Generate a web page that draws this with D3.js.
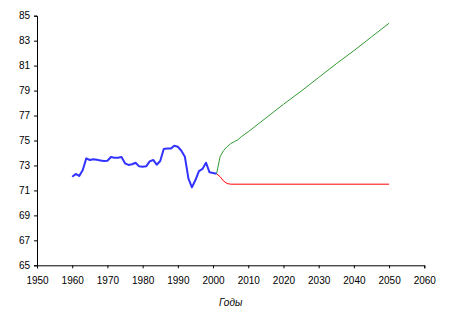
<!DOCTYPE html>
<html>
<head>
<meta charset="utf-8">
<script src="https://cdn.jsdelivr.net/npm/d3@7"></script>
<style>
  body { margin: 0; background: #fff; }
  text { font-family: "Liberation Sans", Arial, sans-serif; }
</style>
</head>
<body>
<div id="grafico"></div>
<script>
// факт
const years = [1960,1961,1962,1963,1964,1965,1966,1967,1968,1969,1970,1971,1972,1973,1974,1975,1976,1977,1978,1979,
  1980,1981,1982,1983,1984,1985,1986,1987,1988,1989,1990,1991,1992,1993,1994,1995,1996,1997,1998,1999,2000,2001];
const fact = [72.1,72.32,72.16,72.64,73.57,73.44,73.5,73.45,73.4,73.35,73.38,73.68,73.62,73.62,73.68,73.17,73.04,73.1,73.22,72.93,
  72.9,72.93,73.33,73.44,73.06,73.36,74.32,74.35,74.35,74.58,74.5,74.18,73.7,71.97,71.25,71.83,72.55,72.72,73.22,72.45,72.4,72.34];

// прогноз: рост
const yearsUp = [2001,2002,2003,2004,2005,2006,2007,2008,2010,2015,2020,2025,2030,2035,2040,2045,2050];
const valuesUp = [72.34,73.7,74.2,74.5,74.75,74.9,75.05,75.3,75.7,76.8,77.9,78.95,80.05,81.15,82.2,83.3,84.4];

// прогноз: стагнация
const yearsFlat = [2001,2002,2003,2004,2005,2050];
const valuesFlat = [72.34,72.1,71.75,71.55,71.5,71.5];

const xTicks = [1950,1960,1970,1980,1990,2000,2010,2020,2030,2040,2050,2060];
const yTicks = [65,67,69,71,73,75,77,79,81,83,85];

const width = 453;
const height = 329;
const margin = { top: 15.7, right: 28.7, bottom: 63.7, left: 37 };

const svg = d3.select("#grafico").append("svg")
  .attr("width", width)
  .attr("height", height);

const x = d3.scaleLinear().domain([1950, 2060]).range([margin.left, width - margin.right]);
const y = d3.scaleLinear().domain([65, 85]).range([height - margin.bottom, margin.top]);

// Eje Y
const gy = svg.append("g")
  .attr("transform", `translate(${margin.left},0)`)
  .call(d3.axisLeft(y).tickValues(yTicks).tickSize(3).tickPadding(4).tickFormat(d3.format("d")));
gy.selectAll("text").style("font-size", "10px").attr("fill", "#000");

// Eje X
const gx = svg.append("g")
  .attr("transform", `translate(0,${height - margin.bottom})`)
  .call(d3.axisBottom(x).tickValues(xTicks).tickSize(3).tickPadding(9).tickFormat(d3.format("d")));
gx.selectAll("text").style("font-size", "10px").attr("fill", "#000");

svg.selectAll(".domain").attr("stroke", "#000");
svg.selectAll(".tick line").attr("stroke", "#000");

svg.append("text")
  .attr("x", (margin.left + width - margin.right) / 2)
  .attr("y", 305.5)
  .attr("text-anchor", "middle")
  .style("font-size", "10px")
  .style("font-style", "italic")
  .text("Годы");

const line = d3.line().x(d => x(d[0])).y(d => y(d[1]));

svg.append("path")
  .datum(yearsFlat.map((t, i) => [t, valuesFlat[i]]))
  .attr("fill", "none")
  .attr("stroke", "#ff0000")
  .attr("stroke-width", 1)
  .attr("d", line);

svg.append("path")
  .datum(yearsUp.map((t, i) => [t, valuesUp[i]]))
  .attr("fill", "none")
  .attr("stroke", "#339933")
  .attr("stroke-width", 1)
  .attr("d", line);

svg.append("path")
  .datum(years.map((t, i) => [t, fact[i]]))
  .attr("fill", "none")
  .attr("stroke", "#3333ff")
  .attr("stroke-width", 2)
  .attr("stroke-linejoin", "round")
  .attr("d", line);
</script>
</body>
</html>
